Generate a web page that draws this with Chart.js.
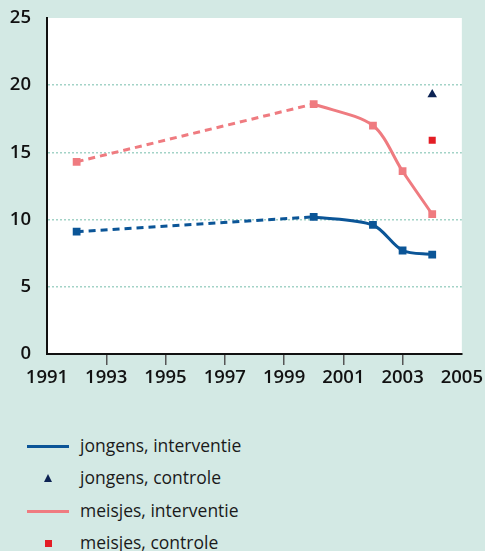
<!DOCTYPE html>
<html>
<head>
<meta charset="utf-8">
<script src="https://cdn.jsdelivr.net/npm/chart.js@4"></script>
<style>
    body { margin: 0; background: #d3e9e4; width: 485px; height: 551px; overflow: hidden; font-family: "Open Sans", sans-serif; }
    #wrap { position: absolute; left: 0; top: 0; width: 485px; height: 400px; }
    #legend { position: absolute; left: 0; top: 430px; }
    .item { position: relative; height: 32.3px; font-size: 17.5px; color: #1a1a1a; }
    .item span.txt { position: absolute; left: 80px; top: 3px; white-space: nowrap; }
    .sw { position: absolute; }
</style>
</head>
<body>
<div id="wrap"><canvas id="chart" width="485" height="400"></canvas></div>
<div id="legend"></div>
<script>
// values
const years = [1992, 2000, 2002, 2003, 2004];
const jongensInterventie = [9.1, 10.2, 9.6, 7.7, 7.4];
const meisjesInterventie = [14.3, 18.6, 17.0, 13.6, 10.4];
const controleYears = [2004];
const jongensControle = [19.3];
const meisjesControle = [15.9];

const labels = ['jongens, interventie', 'jongens, controle', 'meisjes, interventie', 'meisjes, controle'];

const blue = '#0b5597';
const pink = '#ef7b80';
const navy = '#0c2353';
const red = '#e31d25';

function toPoints(xs, ys) {
    return xs.map((x, i) => ({ x: x, y: ys[i] }));
}

// 1992-2000 is a straight dashed stretch, from 2000 on a solid curve
function dashedPart(ys, color) {
    return {
        data: toPoints(years.slice(0, 2), ys.slice(0, 2)),
        borderColor: color,
        borderWidth: 3,
        borderDash: [7, 5],
        tension: 0,
        pointRadius: 0
    };
}

function solidPart(ys, color) {
    return {
        data: toPoints(years.slice(1), ys.slice(1)),
        borderColor: color,
        backgroundColor: color,
        borderWidth: 3,
        tension: 0.3,
        pointStyle: 'rect',
        pointRadius: 5.5,
        pointBorderWidth: 0
    };
}

function firstPoint(ys, color) {
    return {
        data: toPoints(years.slice(0, 1), ys.slice(0, 1)),
        showLine: false,
        backgroundColor: color,
        borderColor: color,
        pointStyle: 'rect',
        pointRadius: 5.5,
        pointBorderWidth: 0
    };
}

const plotBg = {
    id: 'plotBg',
    beforeDraw(chart) {
        const a = chart.chartArea;
        const c = chart.ctx;
        c.save();
        c.fillStyle = '#ffffff';
        c.fillRect(a.left, a.top, a.right - a.left, a.bottom - a.top);
        c.restore();
    }
};

const tickFont = { family: 'Open Sans', size: 18.5, weight: '600' };

new Chart(document.getElementById('chart'), {
    type: 'line',
    data: {
        datasets: [
            dashedPart(jongensInterventie, blue),
            solidPart(jongensInterventie, blue),
            firstPoint(jongensInterventie, blue),
            dashedPart(meisjesInterventie, pink),
            solidPart(meisjesInterventie, pink),
            firstPoint(meisjesInterventie, pink),
            {
                label: labels[1],
                data: toPoints(controleYears, jongensControle),
                showLine: false,
                backgroundColor: navy,
                borderColor: navy,
                pointStyle: 'triangle',
                pointRadius: 5.5,
                pointBorderWidth: 0
            },
            {
                label: labels[3],
                data: toPoints(controleYears, meisjesControle),
                showLine: false,
                backgroundColor: red,
                borderColor: red,
                pointStyle: 'rect',
                pointRadius: 5,
                pointBorderWidth: 0
            }
        ]
    },
    options: {
        responsive: false,
        animation: false,
        layout: { padding: { top: 18, right: 22, left: 0, bottom: 0 } },
        plugins: { legend: { display: false }, tooltip: { enabled: false } },
        scales: {
            x: {
                type: 'linear',
                min: 1991,
                max: 2005,
                ticks: {
                    stepSize: 2,
                    color: '#111',
                    font: tickFont,
                    padding: 2,
                    maxRotation: 0,
                    callback: v => String(v)
                },
                grid: {
                    drawOnChartArea: false,
                    drawTicks: true,
                    tickLength: 11,
                    lineWidth: 1.5,
                    color: ctx => (ctx.tick && (ctx.tick.value === 1991 || ctx.tick.value === 2005)) ? 'rgba(0,0,0,0)' : '#555'
                },
                border: { display: true, color: '#111', width: 2 },
                afterFit: s => { s.height = 46; }
            },
            y: {
                min: 0,
                max: 25,
                ticks: {
                    stepSize: 5,
                    color: '#111',
                    font: tickFont,
                    padding: 16
                },
                grid: {
                    drawTicks: false,
                    lineWidth: 1.5,
                    color: ctx => (ctx.tick && ctx.tick.value > 0 && ctx.tick.value < 25) ? '#a3d3c7' : 'rgba(0,0,0,0)'
                },
                // in v4 the dash of the grid lines is set on border
                border: { display: true, color: '#111', width: 2, dash: [2, 2] },
                // fixed axis width, and no extra room above for the top label
                afterFit: s => { s.width = 47; s.paddingTop = 0; s.paddingBottom = 0; }
            }
        }
    },
    plugins: [plotBg]
});

// legend in html, one row per series
const legendStyles = [
    { kind: 'line', color: blue },
    { kind: 'tri', color: navy },
    { kind: 'line', color: pink },
    { kind: 'sq', color: red }
];
const legend = document.getElementById('legend');
labels.forEach((text, i) => {
    const row = document.createElement('div');
    row.className = 'item';
    const sw = document.createElement('div');
    sw.className = 'sw';
    const st = legendStyles[i];
    if (st.kind === 'line') {
        sw.style.cssText = 'left:27px;top:15px;width:42px;height:3px;background:' + st.color;
    } else if (st.kind === 'tri') {
        sw.style.cssText = 'left:44px;top:12px;width:0;height:0;border-left:4.5px solid transparent;border-right:4.5px solid transparent;border-bottom:8px solid ' + st.color;
    } else {
        sw.style.cssText = 'left:45px;top:13px;width:7px;height:7px;background:' + st.color;
    }
    const span = document.createElement('span');
    span.className = 'txt';
    span.textContent = text;
    row.appendChild(sw);
    row.appendChild(span);
    legend.appendChild(row);
});
</script>
</body>
</html>
